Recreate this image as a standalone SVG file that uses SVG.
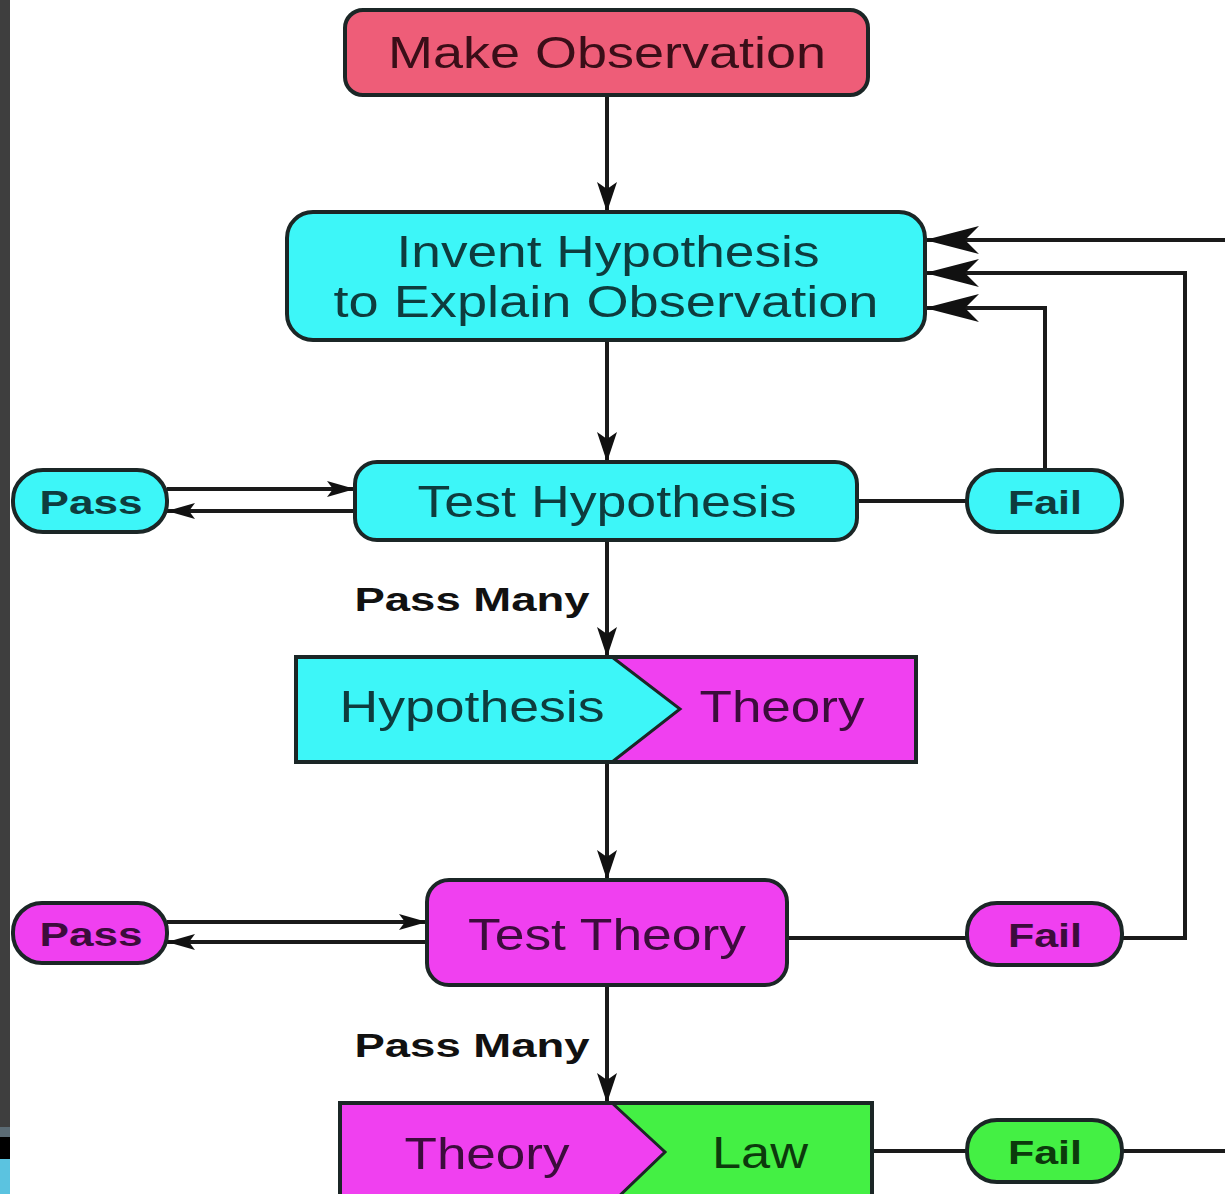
<svg xmlns="http://www.w3.org/2000/svg" width="1225" height="1194" viewBox="0 0 1225 1194">
<defs>
<style>
.t{font-family:"Liberation Sans",Arial,sans-serif;font-size:44px;text-anchor:middle}
.b{font-family:"Liberation Sans",Arial,sans-serif;font-size:34px;font-weight:bold;text-anchor:middle}
.c{fill:#3df6f8}
.m{fill:#f040f0}
.g{fill:#44f044}
.s{stroke:#1b2626;stroke-width:4}
.tc{fill:#0e3c3e}
.tm{fill:#3c0c3c}
.tg{fill:#0c3a0c}
.ln{fill:none;stroke:#1a1a1a;stroke-width:4}
</style>
<marker id="big" markerWidth="56" markerHeight="30" refX="54" refY="15" orient="auto" markerUnits="userSpaceOnUse">
<path d="M0,1 L54,15 L0,29 L14,15 Z" fill="#111"/>
</marker>
<marker id="mid" markerWidth="32" markerHeight="22" refX="30" refY="11" orient="auto" markerUnits="userSpaceOnUse">
<path d="M0,1 L30,11 L0,21 L7,11 Z" fill="#111"/>
</marker>
<marker id="sm" markerWidth="30" markerHeight="18" refX="28" refY="9" orient="auto" markerUnits="userSpaceOnUse">
<path d="M0,1 L28,9 L0,17 L6,9 Z" fill="#111"/>
</marker>
</defs>
<rect width="1225" height="1194" fill="#ffffff"/>
<rect x="0" y="0" width="10" height="1127" fill="#3e3e3e"/>
<rect x="0" y="1127" width="10" height="10" fill="#5b6b74"/>
<rect x="0" y="1137" width="10" height="22" fill="#000"/>
<rect x="0" y="1159" width="10" height="35" fill="#5bc3e0"/>

<g id="connectors">
<line class="ln" x1="607" y1="95" x2="607" y2="212" marker-end="url(#mid)"/>
<line class="ln" x1="607" y1="340" x2="607" y2="462" marker-end="url(#mid)"/>
<line class="ln" x1="607" y1="540" x2="607" y2="657" marker-end="url(#mid)"/>
<line class="ln" x1="607" y1="762" x2="607" y2="880" marker-end="url(#mid)"/>
<line class="ln" x1="607" y1="985" x2="607" y2="1103" marker-end="url(#mid)"/>
<line class="ln" x1="167" y1="489" x2="355" y2="489" marker-end="url(#sm)"/>
<line class="ln" x1="355" y1="511" x2="167" y2="511" marker-end="url(#sm)"/>
<line class="ln" x1="167" y1="922" x2="427" y2="922" marker-end="url(#sm)"/>
<line class="ln" x1="427" y1="942" x2="167" y2="942" marker-end="url(#sm)"/>
<line class="ln" x1="857" y1="501" x2="967" y2="501"/>
<polyline class="ln" points="1045,470 1045,308 925,308" marker-end="url(#big)"/>
<line class="ln" x1="787" y1="938" x2="967" y2="938"/>
<polyline class="ln" points="1122,938 1185,938 1185,273 925,273" marker-end="url(#big)"/>
<line class="ln" x1="1225" y1="240" x2="925" y2="240" marker-end="url(#big)"/>
<line class="ln" x1="872" y1="1151" x2="967" y2="1151"/>
<line class="ln" x1="1122" y1="1151" x2="1225" y2="1151"/>
</g>

<g id="make-observation">
<rect x="345" y="10" width="523" height="85" rx="18" fill="#ee5d78" class="s"/>
<text class="t" x="607" y="68" fill="#3a0e18" textLength="438" lengthAdjust="spacingAndGlyphs">Make Observation</text>
</g>

<g id="invent-hypothesis">
<rect x="287" y="212" width="638" height="128" rx="26" class="c s"/>
<text class="t tc" x="608" y="267" textLength="423" lengthAdjust="spacingAndGlyphs">Invent Hypothesis</text>
<text class="t tc" x="606" y="317" textLength="545" lengthAdjust="spacingAndGlyphs">to Explain Observation</text>
</g>

<g id="test-hypothesis">
<rect x="355" y="462" width="502" height="78" rx="22" class="c s"/>
<text class="t tc" x="607" y="517" textLength="379" lengthAdjust="spacingAndGlyphs">Test Hypothesis</text>
</g>

<g id="pass-1">
<rect x="13" y="470" width="154" height="62" rx="30" class="c s"/>
<text class="b tc" x="91" y="514" textLength="103" lengthAdjust="spacingAndGlyphs">Pass</text>
</g>

<g id="fail-1">
<rect x="967" y="470" width="155" height="62" rx="30" class="c s"/>
<text class="b tc" x="1045" y="514" textLength="74" lengthAdjust="spacingAndGlyphs">Fail</text>
</g>

<g id="pass-many-1">
<text class="b" x="472" y="611" fill="#111" font-size="32" textLength="235" lengthAdjust="spacingAndGlyphs">Pass Many</text>
</g>

<g id="hypothesis-theory">
<rect x="296" y="657" width="620" height="105" class="m"/>
<path d="M296,657 L612,657 L680,709 L612,762 L296,762 Z" class="c"/>
<path d="M612,657 L680,709 L612,762" fill="none" stroke="#1b2626" stroke-width="3"/>
<rect x="296" y="657" width="620" height="105" fill="none" class="s"/>
<text class="t tc" x="472" y="722" textLength="265" lengthAdjust="spacingAndGlyphs">Hypothesis</text>
<text class="t tm" x="782" y="722" textLength="165" lengthAdjust="spacingAndGlyphs">Theory</text>
</g>

<g id="test-theory">
<rect x="427" y="880" width="360" height="105" rx="22" class="m s"/>
<text class="t tm" x="607" y="950" textLength="278" lengthAdjust="spacingAndGlyphs">Test Theory</text>
</g>

<g id="pass-2">
<rect x="13" y="903" width="154" height="60" rx="29" class="m s"/>
<text class="b tm" x="91" y="946" textLength="103" lengthAdjust="spacingAndGlyphs">Pass</text>
</g>

<g id="fail-2">
<rect x="967" y="903" width="155" height="62" rx="30" class="m s"/>
<text class="b tm" x="1045" y="947" textLength="74" lengthAdjust="spacingAndGlyphs">Fail</text>
</g>

<g id="pass-many-2">
<text class="b" x="472" y="1057" fill="#111" font-size="32" textLength="235" lengthAdjust="spacingAndGlyphs">Pass Many</text>
</g>

<g id="theory-law">
<rect x="340" y="1103" width="532" height="100" class="g"/>
<path d="M340,1103 L612,1103 L665,1152 L612,1203 L340,1203 Z" class="m"/>
<path d="M612,1103 L665,1152 L612,1203" fill="none" stroke="#1b2626" stroke-width="3"/>
<rect x="340" y="1103" width="532" height="100" fill="none" class="s"/>
<text class="t tm" x="487" y="1169" textLength="165" lengthAdjust="spacingAndGlyphs">Theory</text>
<text class="t tg" x="760" y="1168" textLength="96" lengthAdjust="spacingAndGlyphs">Law</text>
</g>

<g id="fail-3">
<rect x="967" y="1120" width="155" height="62" rx="30" class="g s"/>
<text class="b tg" x="1045" y="1164" textLength="74" lengthAdjust="spacingAndGlyphs">Fail</text>
</g>
</svg>
